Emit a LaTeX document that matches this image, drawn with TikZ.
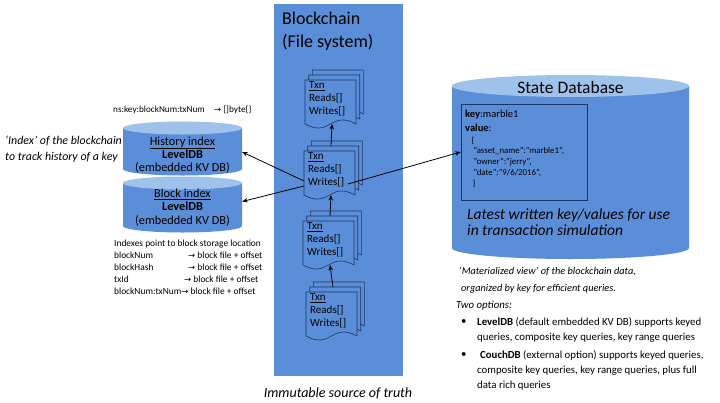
\documentclass[tikz,border=0pt]{standalone}
\usepackage{fontspec}
\setmainfont{Carlito}
\newfontfamily\symfont{DejaVu Sans}
\usetikzlibrary{arrows.meta}
\definecolor{colblue}{RGB}{91,142,216}
\definecolor{topblue}{RGB}{158,194,234}
\definecolor{edgeblue}{RGB}{30,52,96}
\newcommand{\myarr}{{\symfont\fontsize{8.5}{8.5}\selectfont →}}
\newcommand{\fs}[2]{\fontsize{#1}{#2}\selectfont}
% doc stack: #1 = left x, #2 = top y (pixels, downward)
\newcommand{\docstackdraw}[2]{%
  \foreach \dx/\dy in {7.4/10,3.7/5,0/0}{%
    \draw[docline] (#1+\dx,-#2+\dy) -- ++(51,0) -- ++(0,-44)
      .. controls +(-25.5,14) and +(25.5,-14) .. ++(-51,0) -- cycle;}}
% cylinder: #1 xc, #2 rx, #3 top y, #4 bottom y, #5 ry
\newcommand{\cyldraw}[5]{%
  \fill[colblue] (#1-#2,-#3) -- (#1-#2,-#4)
     arc[start angle=180,end angle=360,x radius=#2,y radius=#5] -- (#1+#2,-#3) -- cycle;
  \fill[topblue] (#1,-#3) ellipse[x radius=#2,y radius=#5];}
\begin{document}
\begin{tikzpicture}[x=1pt,y=1pt,
  docline/.style={fill=colblue, draw=edgeblue, line width=0.6pt},
  docnode/.style={anchor=north west, minimum width=51pt, minimum height=44pt, inner sep=0pt, outer sep=0pt},
  doctext/.style={anchor=north west, inner sep=0pt, align=left, font=\fs{11}{13}},
  cyltext/.style={inner sep=0pt, align=center, minimum width=119pt, font=\fs{12.3}{13.4}},
  txt/.style={inner sep=0pt, align=left},
  conn/.style={-{Stealth[length=5.5pt,width=4.5pt]}, line width=0.8pt, black},
]
\useasboundingbox (0,0) rectangle (720,-402);
\fill[white] (0,0) rectangle (720,-402);

% blockchain column
\fill[colblue] (274,-4) rectangle (403,-376);
\node[txt, anchor=north west, font=\fs{18}{23}] (bc) at (282,-12) {Blockchain\\(File system)};

% transaction stacks
\docstackdraw{305}{80}
\docstackdraw{304}{151}
\docstackdraw{303}{221}
\docstackdraw{306}{292}
\node[docnode] (t1) at (305,-80) {};
\node[docnode] (t2) at (304,-151) {};
\node[docnode] (t3) at (303,-221) {};
\node[docnode] (t4) at (306,-292) {};
\foreach \n in {1,2,3,4}{
  \node[doctext] (t\n txt) at ([shift={(4,-1.5)}]t\n.north west) {\underline{Txn}\\Reads[]\\Writes[]};
}
\draw[conn] ([shift={(1.5,5)}]t2.north) -- ([xshift=1.5]t1.south);
\draw[conn] ([shift={(1.5,5)}]t3.north) -- ([xshift=1.5]t2.south);
\draw[conn] ([shift={(1.5,5)}]t4.north) -- ([xshift=1.5]t3.south);

% index cylinders
\cyldraw{182.5}{59.5}{128}{169}{6.5}
\cyldraw{182.5}{59.5}{183}{226}{6.5}
\node[cyltext] (hist) at (182.5,-155) {\underline{History index}\\\textbf{LevelDB}\\(embedded KV DB)};
\node[cyltext] (blk) at (182.5,-207.5) {\underline{Block index}\\\textbf{LevelDB}\\(embedded KV DB)};

\node[txt, anchor=west, font=\fs{9.2}{10}] (nsk) at (113,-110) {\makebox[101pt][l]{ns:key:blockNum:txNum}\myarr\ []byte\{\}};
\node[txt, anchor=north west, font=\itshape\fs{11.9}{16}] (idx) at (5,-136) {‘Index’ of the blockchain\\to track history of a key};
\node[txt, anchor=north west, font=\fs{9.4}{12}] (loc) at (114,-240) {Indexes point to block storage location\\
\makebox[74pt][l]{blockNum}\myarr\ block file + offset\\
\makebox[74pt][l]{blockHash}\myarr\ block file + offset\\
\makebox[70pt][l]{txId}\myarr\ block file + offset\\
blockNum:txNum\myarr\ block file + offset};

% state database
\cyldraw{570.5}{118.5}{86}{248}{11}
\node[inner sep=0pt, font=\fs{17.5}{20}] (sdb) at (570.5,-87) {State Database};
\node[draw=edgeblue, line width=0.6pt, minimum width=126pt, minimum height=96pt, inner sep=0pt] (keybox) at (524,-152) {};
\node[txt, anchor=west, font=\fs{10.5}{12}] (k1) at (465,-115) {\textbf{key}:marble1};
\node[txt, anchor=west, font=\fs{10.5}{12}] (k2) at (465,-128) {\textbf{value}:};
\node[txt, anchor=north west, font=\fs{8.8}{10.8}] (json) at (471.5,-136.5) {\{\\
\hspace*{2pt}"asset\_name":"marble1",\\
\hspace*{2pt}"owner":"jerry",\\
\hspace*{2pt}"date":"9/6/2016",\\
\hspace*{1pt}\}};
\node[txt, anchor=north west, font=\itshape\fs{15.5}{16}] (latest) at (467,-209) {Latest written key/values for use\\in transaction simulation};

% connectors from transactions
\draw[conn] ([yshift=-8]t2.west) -- ([yshift=3]hist.east);
\draw[conn] ([yshift=-13]t2.west) -- ([yshift=6]blk.east);
\draw[conn] ([shift={(-7,-11)}]t2.east) -- (keybox.west);

% lower right text
\node[txt, anchor=north west, font=\itshape\fs{10.3}{16.5}] (mat) at (459,-267) {‘Materialized view’ of the blockchain data,\\\hspace*{2pt}organized by key for efficient queries.};
\node[txt, anchor=west, font=\itshape\fs{10.8}{12}] (two) at (456,-306) {Two options:};
\node[txt, anchor=west, font=\fs{10.8}{12}] (dot1) at (461,-322) {•};
\node[txt, anchor=north west, font=\fs{10.8}{15}] (opt1) at (477,-317) {\textbf{LevelDB} (default embedded KV DB) supports keyed\\queries, composite key queries, key range queries};
\node[txt, anchor=west, font=\fs{10.8}{12}] (dot2) at (461,-355) {•};
\node[txt, anchor=north west, font=\fs{10.8}{15}] (opt2) at (477,-350) {\hspace*{3pt}\textbf{CouchDB} (external option) supports keyed queries,\\composite key queries, key range queries, plus full\\data rich queries};

\node[inner sep=0pt, font=\itshape\fs{14}{15}] (imm) at (338,-393) {Immutable source of truth};
\end{tikzpicture}
\end{document}
